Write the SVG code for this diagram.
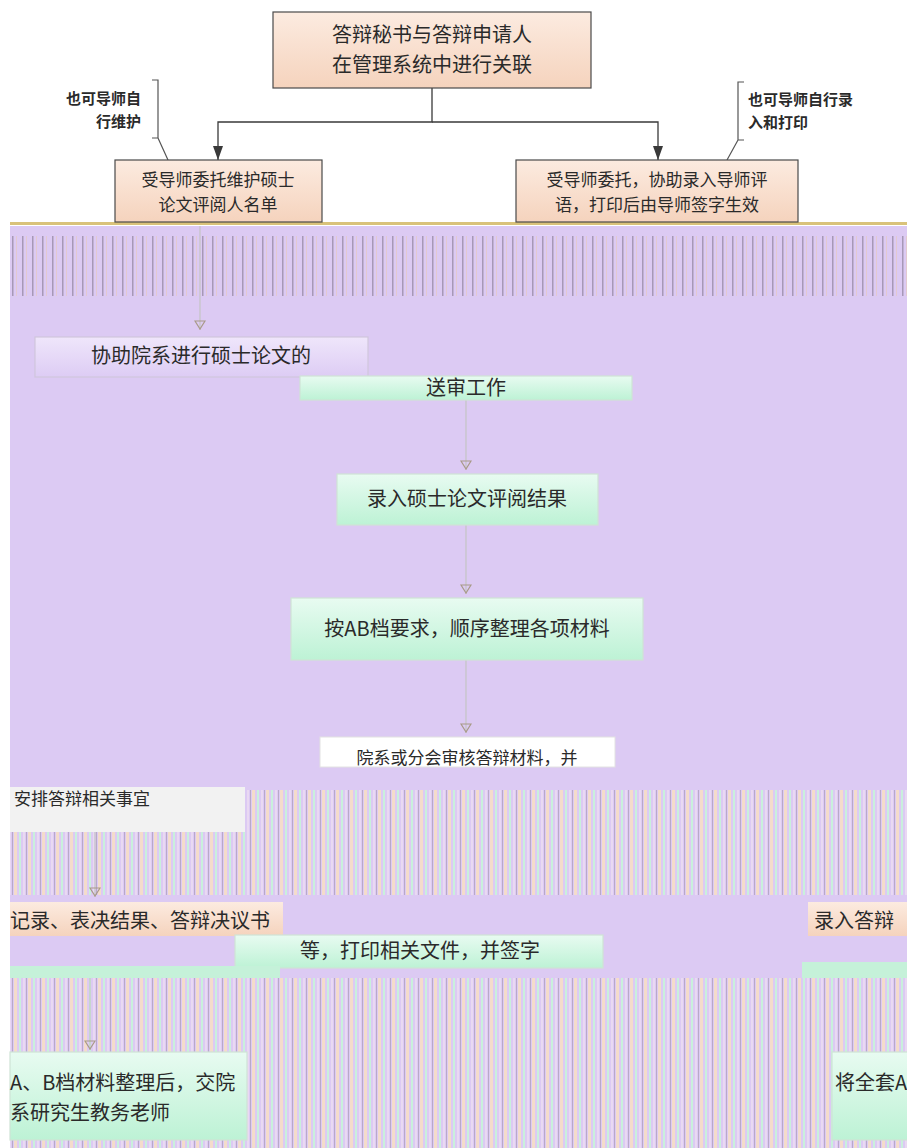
<svg xmlns="http://www.w3.org/2000/svg" width="907" height="1148" viewBox="0 0 907 1148">
<style>
  text { font-family: "Noto Sans CJK SC", "Liberation Sans", sans-serif; fill: #2a2a2a; }
  .t20 { font-size: 20px; }
  .t18 { font-size: 17px; }
  .note { font-size: 15px; font-weight: bold; }
  .mid { text-anchor: middle; }
  .end { text-anchor: end; }
  .dark { fill: none; stroke: #3a3a3a; stroke-width: 1.3; }
  .light { fill: none; stroke: #c4c4c4; stroke-width: 1.2; }
  .brk { fill: none; stroke: #555; stroke-width: 1.2; }
  .peachBox { fill: url(#peach); stroke: #4a4a4a; stroke-width: 1.2; }
  .greenBox { fill: url(#green); stroke: #cfe3d6; stroke-width: 1.2; }
  .lavBox { fill: url(#lav); stroke: #d0c6dc; stroke-width: 1.2; }
</style>
<defs>
  <linearGradient id="peach" x1="0" y1="0" x2="0" y2="1">
    <stop offset="0" stop-color="#fcebe0"/>
    <stop offset="1" stop-color="#f5d3bd"/>
  </linearGradient>
  <linearGradient id="green" x1="0" y1="0" x2="0" y2="1">
    <stop offset="0" stop-color="#e8fbf1"/>
    <stop offset="1" stop-color="#bdf2d5"/>
  </linearGradient>
  <linearGradient id="lav" x1="0" y1="0" x2="0" y2="1">
    <stop offset="0" stop-color="#efe6fb"/>
    <stop offset="1" stop-color="#ddccf4"/>
  </linearGradient>
  <pattern id="stripes" width="14" height="8" patternUnits="userSpaceOnUse">
    <rect width="14" height="8" fill="#dccaf3"/>
    <rect x="0" width="3" height="8" fill="#f4dccb"/>
    <rect x="5" width="2" height="8" fill="#c9f0dc"/>
    <rect x="9" width="2" height="8" fill="#e9d9f2"/>
    <rect x="12" width="1" height="8" fill="#b9a9c9"/>
  </pattern>
  <pattern id="lines" width="10" height="10" patternUnits="userSpaceOnUse">
    <rect width="10" height="10" fill="#dccaf3"/>
    <rect x="2" width="1.5" height="10" fill="#7b6f86"/>
    <rect x="6" width="1" height="10" fill="#e9c9b4"/>
  </pattern>
  <marker id="arrDark" viewBox="0 0 14 10" refX="14" refY="5" markerWidth="14" markerHeight="10" markerUnits="userSpaceOnUse" orient="auto">
    <path d="M0,0 L14,5 L0,10 Z" fill="#3a3a3a"/>
  </marker>
  <marker id="arrLight" viewBox="0 0 12 10" refX="6" refY="10" markerWidth="12" markerHeight="10" markerUnits="userSpaceOnUse">
    <path d="M1,1 L11,1 L6,9 Z" fill="none" stroke="#a89a88" stroke-width="1.2"/>
  </marker>
</defs>

<!-- background -->
<rect x="0" y="0" width="907" height="1148" fill="#ffffff"/>
<rect x="10" y="226" width="897" height="922" fill="#dccaf3"/>
<rect x="10" y="236" width="897" height="60" fill="url(#lines)" opacity="0.55"/>
<rect x="10" y="222" width="897" height="3" fill="#d9c27a"/>
<rect x="10" y="790" width="897" height="105" fill="url(#stripes)"/>
<rect x="10" y="978" width="897" height="170" fill="url(#stripes)"/>

<!-- connectors -->
<g id="connectors">
  <path class="dark" d="M432,88 V122 H218 V160" marker-end="url(#arrDark)"/>
  <path class="dark" d="M432,122 H658 V160" marker-end="url(#arrDark)"/>
  <path class="brk" d="M152,80 H158 V138 H152 M158,138 L168,160"/>
  <path class="brk" d="M744,82 H738 V140 H744 M738,140 L727,160"/>
  <path class="light" d="M200,226 V330" marker-end="url(#arrLight)"/>
  <path class="light" d="M466,400 V470" marker-end="url(#arrLight)"/>
  <path class="light" d="M466,525 V594" marker-end="url(#arrLight)"/>
  <path class="light" d="M466,660 V733" marker-end="url(#arrLight)"/>
  <path class="light" d="M95,832 V897" marker-end="url(#arrLight)"/>
  <path class="light" d="M90,978 V1050" marker-end="url(#arrLight)"/>
</g>

<!-- notes -->
<g id="note-left">
  <text class="note end" x="141" y="104">也可导师自</text>
  <text class="note end" x="141" y="127">行维护</text>
</g>
<g id="note-right">
  <text class="note" x="748" y="105">也可导师自行录</text>
  <text class="note" x="748" y="128">入和打印</text>
</g>

<!-- nodes -->
<g id="n-top">
  <rect class="peachBox" x="273" y="12" width="318" height="76"/>
  <text class="t20 mid" x="432" y="42">答辩秘书与答辩申请人</text>
  <text class="t20 mid" x="432" y="72">在管理系统中进行关联</text>
</g>
<g id="n-left">
  <rect class="peachBox" x="115" y="160" width="207" height="62"/>
  <text class="t18 mid" x="218" y="186">受导师委托维护硕士</text>
  <text class="t18 mid" x="218" y="211">论文评阅人名单</text>
</g>
<g id="n-right">
  <rect class="peachBox" x="516" y="160" width="282" height="62"/>
  <text class="t18 mid" x="657" y="186">受导师委托，协助录入导师评</text>
  <text class="t18 mid" x="657" y="211">语，打印后由导师签字生效</text>
</g>
<g id="n-send">
  <rect class="lavBox" x="35" y="337" width="333" height="40"/>
  <text class="t20 mid" x="201" y="363">协助院系进行硕士论文的</text>
  <rect class="greenBox" x="300" y="376" width="332" height="24"/>
  <text class="t20 mid" x="466" y="395">送审工作</text>
</g>
<g id="n-record">
  <rect class="greenBox" x="337" y="474" width="261" height="51"/>
  <text class="t20 mid" x="467" y="506">录入硕士论文评阅结果</text>
</g>
<g id="n-ab">
  <rect class="greenBox" x="291" y="598" width="352" height="62"/>
  <text class="t20 mid" x="467" y="636">按AB档要求，顺序整理各项材料</text>
</g>
<g id="n-review">
  <rect x="320" y="737" width="295" height="30" fill="#ffffff" stroke="#e2e2e2"/>
  <text class="t18 mid" x="467" y="764">院系或分会审核答辩材料，并</text>
  <rect x="10" y="787" width="235" height="45" fill="#f2f2f2"/>
  <text class="t18" x="14" y="805">安排答辩相关事宜</text>
</g>
<g id="n-print">
  <rect x="10" y="902" width="273" height="34" fill="url(#peach)"/>
  <text class="t20" x="10" y="928">记录、表决结果、答辩决议书</text>
  <rect class="greenBox" x="235" y="935" width="368" height="33"/>
  <text class="t20 mid" x="420" y="958">等，打印相关文件，并签字</text>
  <rect x="10" y="966" width="270" height="12" fill="#c5f1d9"/>
</g>
<g id="n-print-right">
  <rect x="808" y="902" width="99" height="34" fill="url(#peach)"/>
  <text class="t20" x="814" y="928">录入答辩</text>
  <rect x="802" y="962" width="105" height="16" fill="#c5f1d9"/>
</g>
<g id="n-submit">
  <rect class="greenBox" x="10" y="1052" width="237" height="88"/>
  <text class="t20" x="10" y="1090">A、B档材料整理后，交院</text>
  <text class="t20" x="10" y="1120">系研究生教务老师</text>
</g>
<g id="n-submit-right">
  <rect class="greenBox" x="832" y="1052" width="80" height="88"/>
  <text class="t20" x="835" y="1090">将全套A</text>
</g>
</svg>
